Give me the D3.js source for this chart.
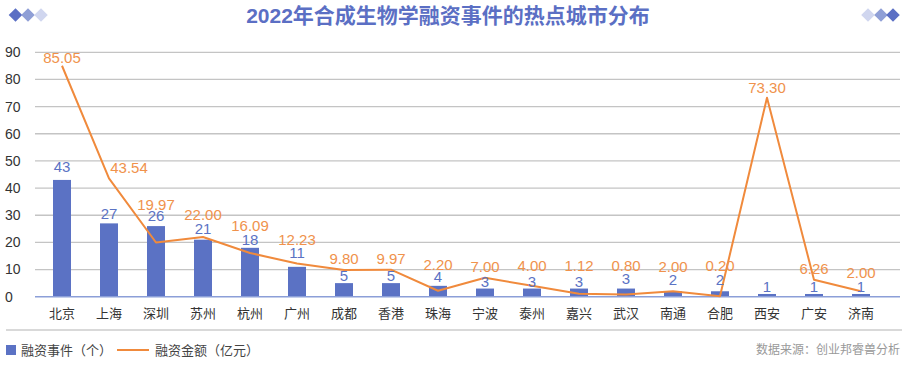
<!DOCTYPE html>
<html><head><meta charset="utf-8">
<script src="https://cdn.jsdelivr.net/npm/d3@7/dist/d3.min.js"></script>
<style>
html,body{margin:0;padding:0;background:#fff;}
svg{display:block;}
text{font-family:"Liberation Sans",Arial,"Noto Sans CJK SC",sans-serif;}
.cjk{font-family:"Noto Sans CJK SC","Liberation Sans",sans-serif;}
</style></head>
<body>
<svg id="c" width="916" height="367"></svg>
<script>
const title = "2022年合成生物学融资事件的热点城市分布";
const cities = ["北京","上海","深圳","苏州","杭州","广州","成都","香港","珠海","宁波","泰州","嘉兴","武汉","南通","合肥","西安","广安","济南"];
const deals = [43,27,26,21,18,11,5,5,4,3,3,3,3,2,2,1,1,1];
const amounts = [85.05,43.54,19.97,22.00,16.09,12.23,9.80,9.97,2.20,7.00,4.00,1.12,0.80,2.00,0.20,73.30,6.26,2.00];
const yTicks = [0,10,20,30,40,50,60,70,80,90];
const legendLabels = ["融资事件（个）","融资金额（亿元）"];
const source = "数据来源：创业邦睿兽分析";

// label placement tweaks (offsets in px, style only)
const lineLabelDy = [-8,-11,-38,-22,-27,-23.5,-11,-10.6,-26,-11,-20,-28,-28.5,-25,-30,-10,-10.7,-19];
const lineLabelDx = [0,20,0,0,0,0,0,0,0,0,0,0,0,0,0,0,0,0];
const barLabelDy = [-13,-9.4,-10,-11.4,-8,-14.5,-7,-7,-9,-7,-7,-7,-9.5,-12,-12,-7.3,-7.3,-7.3];

const BLUE = "#5b72c4", ORANGE = "#f08a3c", ORANGE_T = "#f0924c", BLUE_T = "#5b73c4";

const svg = d3.select("#c");
const x = d3.scalePoint().domain(cities).range([62, 861]);
const y = d3.scaleLinear().domain([0, 90]).range([296.7, 52.3]);

// title
svg.append("text").attr("x", 448).attr("y", 23)
  .attr("text-anchor","middle").attr("font-size", 21).attr("font-weight","bold")
  .attr("fill", "#5b6fc4").text(title);

// diamonds
const dcols = ["#5b6fc4","#8f9fd6","#d0d6ef"];
function diamond(cx, cy, col){
  svg.append("rect").attr("x", -4.8).attr("y", -4.8).attr("width", 9.6).attr("height", 9.6)
    .attr("fill", col).attr("transform", `translate(${cx},${cy}) rotate(45)`);
}
[15.5,28,41].forEach((cx,i)=>diamond(cx,15,dcols[i]));
[868,881,893].forEach((cx,i)=>diamond(cx,15,dcols[2-i]));

// gridlines
svg.append("g").selectAll("line").data(yTicks.filter(t=>t>0)).join("line")
  .attr("x1", 35).attr("x2", 900).attr("y1", d=>y(d)).attr("y2", d=>y(d))
  .attr("stroke", "#c4c4c4").attr("stroke-width", 1.3);

// y tick labels
svg.append("g").selectAll("text").data(yTicks).join("text")
  .attr("x", 5).attr("y", d=>y(d)).attr("dy","0.35em")
  .attr("font-size", 14).attr("fill", "#333").text(d=>d);

// bars
svg.append("g").selectAll("rect").data(deals).join("rect")
  .attr("x", (d,i)=>x(cities[i]) - 9).attr("width", 18)
  .attr("y", d=>y(d)).attr("height", d=>y(0)-y(d))
  .attr("fill", BLUE);

// x axis line
svg.append("line").attr("x1", 35).attr("x2", 900).attr("y1", y(0)).attr("y2", y(0))
  .attr("stroke", "#8c9fd8").attr("stroke-width", 1.5);

// x labels
svg.append("g").selectAll("text").data(cities).join("text").attr("class","cjk")
  .attr("x", d=>x(d)).attr("y", 313).attr("dy","0.35em").attr("text-anchor","middle")
  .attr("font-size", 13).attr("fill", "#333").text(d=>d);

// line
const line = d3.line().x((d,i)=>x(cities[i])).y(d=>y(d));
svg.append("path").datum(amounts).attr("d", line).attr("fill","none")
  .attr("stroke", ORANGE).attr("stroke-width", 2).attr("stroke-linejoin","round");

// bar labels
svg.append("g").selectAll("text").data(deals).join("text")
  .attr("x", (d,i)=>x(cities[i])).attr("y", (d,i)=>y(d)+barLabelDy[i]).attr("dy","0.35em")
  .attr("text-anchor","middle").attr("font-size", 15).attr("fill", BLUE_T).text(d=>d);

// line labels
svg.append("g").selectAll("text").data(amounts).join("text")
  .attr("x", (d,i)=>x(cities[i])+lineLabelDx[i]).attr("y", (d,i)=>y(d)+lineLabelDy[i]).attr("dy","0.35em")
  .attr("text-anchor","middle").attr("font-size", 15).attr("fill", ORANGE_T).text(d=>d.toFixed(2));

// divider
svg.append("line").attr("x1", 6).attr("x2", 902).attr("y1", 330).attr("y2", 330)
  .attr("stroke", "#cccccc").attr("stroke-width", 1.5);

// legend
svg.append("rect").attr("x", 6).attr("y", 345).attr("width", 10).attr("height", 10).attr("fill", BLUE);
svg.append("text").attr("class","cjk").attr("x", 21).attr("y", 350).attr("dy","0.35em")
  .attr("font-size", 13).attr("fill", "#444").text(legendLabels[0]);
svg.append("line").attr("x1", 117).attr("x2", 149).attr("y1", 350).attr("y2", 350)
  .attr("stroke", ORANGE).attr("stroke-width", 2);
svg.append("text").attr("class","cjk").attr("x", 155).attr("y", 350).attr("dy","0.35em")
  .attr("font-size", 13).attr("fill", "#444").text(legendLabels[1]);

// source
svg.append("text").attr("class","cjk").attr("x", 900).attr("y", 350).attr("dy","0.35em")
  .attr("text-anchor","end").attr("font-size", 12).attr("fill", "#999").text(source);
</script>
</body></html>
